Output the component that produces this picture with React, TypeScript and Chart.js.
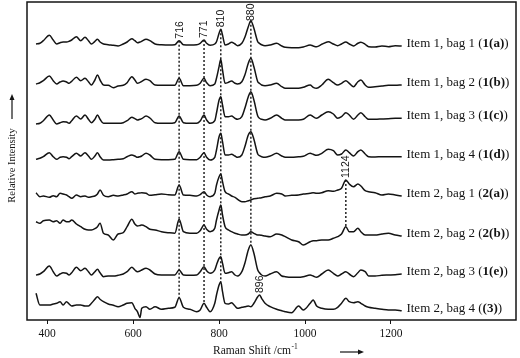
import React, { useEffect, useRef } from 'react';
import { Chart, registerables } from 'chart.js';

Chart.register(...registerables);

// Raman shift grid (cm-1), shared by all spectra
const ramanShift = [
  374, 383, 391, 405, 414, 422, 430, 437, 445, 451,
  457, 468, 478, 488, 496, 503, 511, 517, 523, 531,
  542, 554, 565, 577, 586, 597, 604, 610, 616, 620,
  630, 639, 651, 666, 682, 697, 707, 717, 732, 748,
  756, 765, 771, 779, 790,
  794, 800, 804, 808, 814, 822, 829, 837, 843, 853,
  860, 868, 874, 881, 890, 894, 899, 907, 919, 934,
  946, 954, 969, 985, 996, 1012, 1019, 1027, 1039, 1054,
  1066, 1076, 1085, 1095, 1103, 1113, 1123, 1130, 1140, 1148,
  1163, 1179, 1194, 1210, 1225,
];

const xTicks = [400, 600, 800, 1000, 1200];

const traceNames = [
  'Item 1, bag 1', 'Item 1, bag 2', 'Item 1, bag 3', 'Item 1, bag 4',
  'Item 2, bag 1', 'Item 2, bag 2', 'Item 2, bag 3', 'Item 2, bag 4',
];
const traceCodes = ['1(a)', '1(b)', '1(c)', '1(d)', '2(a)', '2(b)', '1(e)', '(3)'];
const traceOffsets = [275, 236, 199, 163, 124, 87, 46, 12];

const item1bag1 = [
  1, 1.7, 4.3, 9.7, 5, 1, 2.3, 3, 3, 3.7,
  5, 8.3, 4.3, 7.7, 4.3, 1, 3.7, 5.7, 3, 1,
  0.3, -0.3, -1, 1, 3, 6.3, 4.3, 2.3, 3, 3.7,
  5.7, 4.3, 1, 0.3, 0, 0.3, 4.3, 0.3, 0, 0.3,
  1.7, 5, 1.7, -0.3, 1,
  3.3, 11.7, 15.7, 10, 0, 1, 2.7, 1, -0.7, 1.7,
  7.7, 18.3, 24.3, 16.7, 3.3, 1.7, 0.3, -0.7, 0, 1.7,
  -1, -2.3, -2.7, -2.7, -2, 0, -1, -1.7, 0.7, 3.3,
  1, -0.7, 1, 3, 1, -1, 1.7, 2.7, 0.7, -1.7,
  -2, -1, -1.7, -0.7, -1,
];
const item1bag2 = [
  0, 1.3, 3.3, 8, 3.3, 0, 2, 3, 2, 0.7,
  2.7, 6.7, 3.3, 5.7, 2.3, -1, 4, 9, 4, -1,
  -1.3, -3.7, -2, -1.3, 1.3, 7.3, 4, 0.7, 1.7, 2.7,
  4.7, 3.3, -1, -1.3, -1.3, -1.3, 5.7, -1.7, -1.7, -1.3,
  0.7, 5.7, 1.3, -1.7, 0,
  5.7, 17.3, 24.7, 14, 0.7, 1.7, 3, 0.7, 0, 2.3,
  9, 20.7, 25.7, 17.3, 2.3, 0.7, -1, -1.7, -1, 0.7,
  -2.7, -4.3, -4.3, -4.3, -3.3, -1, -3.3, -4.3, -1, 4.7,
  1.3, -1, 0.7, 3.3, 0.7, -2.7, 2.3, 4, -1, -3.3,
  -2.7, -2, -1.3, -1.3, -1,
];
const item1bag3 = [
  -3, -2.3, 0.3, 6, 1, -3, -1.7, -0.7, -1, -2.3,
  0.3, 5, 2, 6, 1.7, -1.7, 1.7, 6, 1.7, -2.3,
  -2.3, -2.3, -2.3, -1.7, 0.3, 3.7, 2.3, 1, 1.7, 2.3,
  5, 3, -1.7, -2.3, -2.3, -1.7, 5, -1.7, -2.3, -2.3,
  0, 6, 1, -2.3, 0.3,
  8, 21, 24.3, 16, 4.3, 4.3, 5, 2.7, 1.7, 4.3,
  12.7, 24.3, 29.3, 21, 5, 2.7, 1.7, 1, 2.7, 6,
  2.7, 1, 1, 1, 1.7, 6, 4.3, 2.7, 6, 9.3,
  7, 2.7, 4.3, 8.3, 6, 1.7, 6, 8.3, 4.3, 1.7,
  1.7, 2, 2.3, 2.7, 2.7,
];
const item1bag4 = [
  -2.3, -1.3, 0.3, 4.3, 0.3, -2.3, -0.3, 0.3, -0.3, -1.7,
  0.3, 3.7, 1, 4.3, 1, -2.3, 1, 4.3, 0.3, -3,
  -3, -2.7, -2.3, -1.7, 0.3, 2, 1, -0.3, 0.3, 1,
  3.7, 2, -2.3, -2.7, -2.7, -2.3, 5.3, -2.3, -2.7, -2.7,
  -0.3, 4.3, -0.3, -3, -0.3,
  7, 20.3, 23.7, 15.3, 2, 2, 2.7, 1, -0.3, 2,
  10.3, 22, 25.3, 17.7, 3, 1.3, 0.3, -0.3, 1, 3.7,
  1, -0.3, -0.3, 0.3, 0.7, 3.7, 2.7, 1.7, 3.7, 7.7,
  6.3, 2, 3, 7, 4.3, 1, 5.3, 7, 3, 0.3,
  0, 0.3, 0.3, 0.3, 0.3,
];
const item2bag1 = [
  3.3, -0.7, 0, -1.3, 0.3, -0.7, 2.7, 2, 1, -0.7,
  -2.3, 1, -0.7, 0, -1.3, -0.7, 0, 2, 6, 0.7,
  -0.7, 0.7, 0, 1, 2, 4.3, 2, 2.7, 3, 3.3,
  2.7, 0.7, 1.3, 2, 1.3, 1, 11, 1, 0.7, 0,
  1.3, 4.3, 1, -0.7, 2.7,
  11, 19.3, 22, 14.3, 4.3, 2, 0, -1.3, -3.3, -5.7,
  -5.7, -4.7, -4, -2.7, -2.3, -2, -1.7, -0.7, 0, 2.7,
  2, 0, 0.7, 1, 2, 2.7, 3.3, 2.7, 3.3, 5.3,
  4.7, 6, 7.7, 16, 12, 9.3, 12, 10, 5.3, 4.3,
  3.3, 1, 2, 1, 0,
];
const item2bag2 = [
  11.3, 9.7, 12.3, 13, 11.3, 12.3, 9.7, 13, 11.3, 11.3,
  13, 9, 6.3, 3.7, 3, 3, 4.3, 6.3, 9.7, -0.3,
  -2, -7, -1, 0.3, 6.3, 13.7, 9, 7, 7.5, 8,
  6.3, 3.7, 3, 1.3, 0.3, -0.3, 13.7, 1.3, -0.3, -0.3,
  2.3, 8, 3.7, 1.3, 4.7,
  13, 23, 28, 18, 6.3, 3, 1.3, -0.3, -1, -2,
  -2, -1, 1.3, -0.3, -2, -2, -2.3, -3, -3.7, -1,
  -2, -3.7, -7, -8.7, -12, -8.7, -7.7, -7.7, -7, -7,
  -5.3, -3.7, -1, 6.3, 1.3, 1.3, 4.7, 1.3, -2, -2,
  -2, -1, -0.3, -2, -3,
];
const item2bag3 = [
  -1, 0, 2.3, 8, 2.3, -2, 0, 1.3, 0.7, -1,
  1.3, 6.7, 3.3, 5.7, 2.3, -1, 2.3, 4.7, 1.3, -2.7,
  -2, -2, -1.3, 0, 2.3, 6.7, 4, 2.3, 3, 4,
  5.7, 4, 0, -1, -1, -1, 4, -1, -1.3, -1,
  2.3, 7.3, 3.3, 0.7, 4,
  9, 15.7, 17.3, 10.7, 0.7, 1.3, 2.3, -1, -2, 2.3,
  10.7, 24, 29, 20.7, 4, 1.3, -1, -2, 0, 2.3,
  -2, -2.7, -3.3, -3.3, -2.7, -1, -2, -3.3, 0, 4,
  0.7, -2, 0, 2.3, 0, -2.7, 1.3, 4, 2.3, -2,
  -2, -1.3, -1, -0.7, 0,
];
const item2bag4 = [
  14.7, 3, 3, 3, 4, 4.7, 6.3, 3, 6.3, 4,
  2, 3, 3, 2, 2, 4.7, 8.7, 11.3, 8.7, 6.3,
  4, 2.7, 1.3, 3, 4.7, 5.3, -0.3, -3.7, -9.5, -0.3,
  1.3, -1.3, 1.3, -1.3, -0.3, 0.7, 10.3, 0.7, -1.3, -3.7,
  -2, 4.7, 0.7, -3.7, 4.7,
  13, 23, 26.3, 16.3, 4.7, 4, 5.3, 2, -0.3, 0.7,
  1.3, 2, 1.3, 4.7, 11.3, 13, 9.7, 4.7, 1.3, -1.3,
  -2.7, -3.7, -4.7, 2, -2, 4.7, 8, 2, -0.3, -1.3,
  -1.3, 0.7, 4.7, 9.7, 6.3, 5.3, 6.3, 4.7, 2, 0.7,
  -0.3, -1.3, -2, -2, -2.7,
];

const spectra = [item1bag1, item1bag2, item1bag3, item1bag4, item2bag1, item2bag2, item2bag3, item2bag4];

// Marked bands: label, position on the shift axis, first/last spectrum the marker spans
const peakLabels = ['716', '771', '810', '880', '1124', '896'];
const peakPositions = [707, 765, 804, 874, 1095, 894];
const peakFirstTrace = [0, 0, 0, 0, 4, 7];
const peakLastTrace = [7, 7, 7, 6, 5, 7];

const SERIF = "'Liberation Serif', 'Times New Roman', serif";
const SANS = "'Liberation Sans', Arial, sans-serif";
const INK = '#141414';

function drawArrow(ctx: CanvasRenderingContext2D, x1: number, y1: number, x2: number, y2: number) {
  const ang = Math.atan2(y2 - y1, x2 - x1);
  ctx.beginPath();
  ctx.moveTo(x1, y1);
  ctx.lineTo(x2 - 4 * Math.cos(ang), y2 - 4 * Math.sin(ang));
  ctx.lineWidth = 1.2;
  ctx.stroke();
  ctx.beginPath();
  ctx.moveTo(x2, y2);
  ctx.lineTo(x2 - 6 * Math.cos(ang) + 2.5 * Math.sin(ang), y2 - 6 * Math.sin(ang) - 2.5 * Math.cos(ang));
  ctx.lineTo(x2 - 6 * Math.cos(ang) - 2.5 * Math.sin(ang), y2 - 6 * Math.sin(ang) + 2.5 * Math.cos(ang));
  ctx.closePath();
  ctx.fill();
}

const overlayPlugin = {
  id: 'overlay',
  afterDatasetsDraw(chart: any) {
    const { ctx, chartArea: a, scales } = chart;
    const xs = scales.x;
    const ys = scales.y;
    ctx.save();
    ctx.strokeStyle = INK;
    ctx.fillStyle = INK;

    // frame
    ctx.lineWidth = 1.5;
    ctx.strokeRect(a.left, a.top, a.right - a.left, a.bottom - a.top);

    // band markers
    peakLabels.forEach((lab, i) => {
      const k = ramanShift.indexOf(peakPositions[i]);
      const px = xs.getPixelForValue(peakPositions[i]);
      const f = peakFirstTrace[i];
      const l = peakLastTrace[i];
      const yTop = ys.getPixelForValue(spectra[f][k] + traceOffsets[f]);
      const yBot = ys.getPixelForValue(spectra[l][k] + traceOffsets[l]);
      if (l > f) {
        ctx.save();
        ctx.setLineDash([2, 2]);
        ctx.lineWidth = 1.4;
        ctx.beginPath();
        ctx.moveTo(px, yTop);
        ctx.lineTo(px, yBot);
        ctx.stroke();
        ctx.restore();
      }
      ctx.save();
      ctx.translate(px + 0.5, Math.max(yTop - 2, a.top + 19));
      ctx.rotate(-Math.PI / 2);
      ctx.font = `10.5px ${SANS}`;
      ctx.textAlign = 'left';
      ctx.textBaseline = 'middle';
      ctx.fillText(lab, 0, 0);
      ctx.restore();
    });

    // spectrum labels
    const lx = xs.getPixelForValue(1236);
    spectra.forEach((s, i) => {
      const py = ys.getPixelForValue(s[s.length - 1] + traceOffsets[i] + 2.5);
      ctx.textBaseline = 'middle';
      ctx.textAlign = 'left';
      let cx = lx;
      const parts: [string, boolean][] = [[traceNames[i] + ' (', false], [traceCodes[i], true], [')', false]];
      parts.forEach(([t, bold]) => {
        ctx.font = `${bold ? 'bold ' : ''}13px ${SERIF}`;
        ctx.fillText(t, cx, py);
        cx += ctx.measureText(t).width;
      });
    });

    // x title
    ctx.font = `11.5px ${SERIF}`;
    ctx.textAlign = 'left';
    ctx.textBaseline = 'middle';
    const tx = 213;
    const ty = 351;
    const main = 'Raman Shift /cm';
    ctx.fillText(main, tx, ty);
    const w = ctx.measureText(main).width;
    ctx.font = `7.5px ${SERIF}`;
    ctx.fillText('-1', tx + w + 0.5, ty - 4);
    drawArrow(ctx, 340, ty + 1, 364, ty + 1);

    // y title
    ctx.save();
    ctx.translate(12, 165.5);
    ctx.rotate(-Math.PI / 2);
    ctx.font = `10.5px ${SERIF}`;
    ctx.textAlign = 'center';
    ctx.textBaseline = 'middle';
    ctx.fillText('Relative Intensity', 0, 0);
    ctx.restore();
    drawArrow(ctx, 12, 119, 12, 94);

    ctx.restore();
  },
};

export default function App() {
  const canvasRef = useRef<HTMLCanvasElement | null>(null);

  useEffect(() => {
    if (!canvasRef.current) return;
    const datasets = spectra.map((s, i) => ({
      label: traceNames[i],
      data: ramanShift.map((x, k) => ({ x, y: s[k] + traceOffsets[i] })),
      borderColor: INK,
      borderWidth: 1.5,
      pointRadius: 0,
      fill: false,
      cubicInterpolationMode: 'monotone' as const,
    }));
    const chart = new Chart(canvasRef.current, {
      type: 'line',
      data: { datasets },
      options: {
        animation: false,
        responsive: false,
        maintainAspectRatio: false,
        layout: { padding: { left: 27, right: 4, top: 2, bottom: 0 } },
        plugins: { legend: { display: false }, tooltip: { enabled: false }, title: { display: false } },
        scales: {
          x: {
            type: 'linear',
            min: 353,
            max: 1491,
            afterBuildTicks: (scale: any) => {
              scale.ticks = xTicks.map((v) => ({ value: v }));
            },
            afterFit: (scale: any) => {
              scale.height = 38;
            },
            grid: { display: true, drawOnChartArea: false, drawTicks: true, tickLength: 4, color: INK, lineWidth: 1 },
            border: { display: false },
            ticks: {
              color: INK,
              padding: 3,
              maxRotation: 0,
              font: { family: SERIF, size: 11.5 },
              callback: (v: any) => String(v),
            },
          },
          y: { type: 'linear', min: 0, max: 318, display: false },
        },
      },
      plugins: [overlayPlugin],
    });
    return () => chart.destroy();
  }, []);

  return (
    <div style={{ position: 'absolute', left: 0, top: 0, width: 520, height: 358, background: '#fff' }}>
      <canvas ref={canvasRef} width={520} height={358} style={{ display: 'block' }} />
    </div>
  );
}
